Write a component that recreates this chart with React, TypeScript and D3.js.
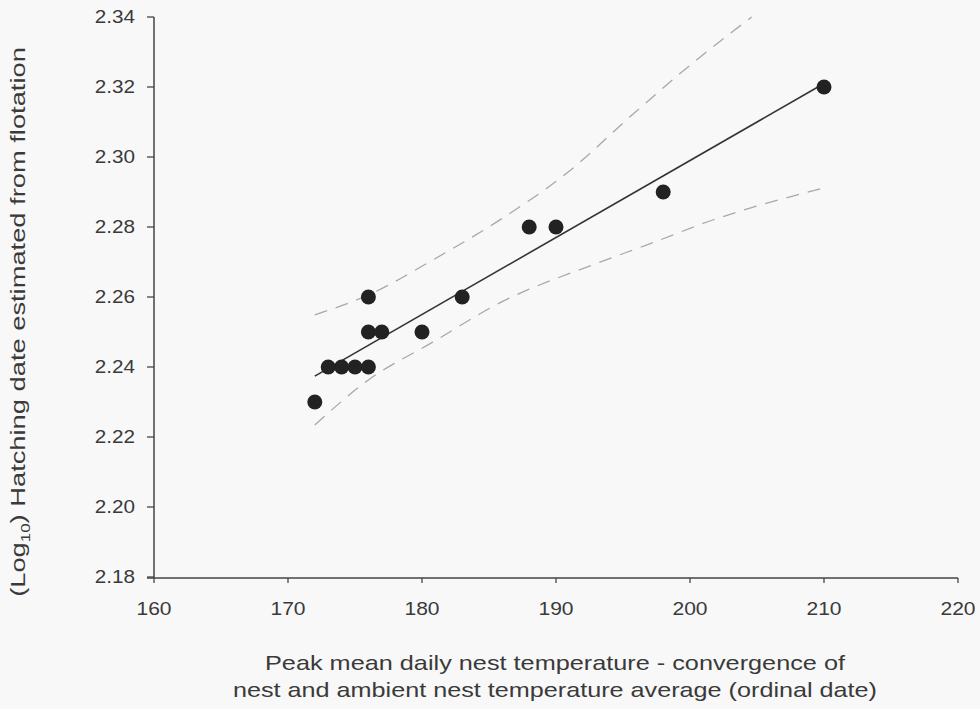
import React from "react";
import * as d3 from "d3";

const xTicks = [160, 170, 180, 190, 200, 210, 220];
const yTicks = [2.18, 2.2, 2.22, 2.24, 2.26, 2.28, 2.3, 2.32, 2.34];

const pointX = [172, 173, 174, 175, 176, 176, 176, 177, 180, 183, 188, 190, 198, 210];
const pointY = [2.23, 2.24, 2.24, 2.24, 2.24, 2.25, 2.26, 2.25, 2.25, 2.26, 2.28, 2.28, 2.29, 2.32];

const fitX = [172, 210];
const fitY = [2.2374, 2.321];

const upperX = [172, 176, 181, 186, 191, 195.5, 199.3, 204.6];
const upperY = [2.2549, 2.2606, 2.271, 2.2825, 2.296, 2.3114, 2.324, 2.34];

const lowerX = [172, 176, 180.8, 185.8, 193.1, 196.8, 201.7, 210];
const lowerY = [2.2234, 2.2363, 2.2471, 2.2583, 2.2697, 2.2749, 2.282, 2.2912];

const xTitle1 = "Peak mean daily nest temperature - convergence of";
const xTitle2 = "nest and ambient nest temperature average (ordinal date)";

export default function App() {
  const W = 980, H = 709;
  const left = 154, right = 958, top = 17, bottom = 577;
  const x = d3.scaleLinear().domain([160, 220]).range([left, right]);
  const y = d3.scaleLinear().domain([2.18, 2.34]).range([bottom, top]);
  const line = d3.line<[number, number]>().x(d => x(d[0])).y(d => y(d[1]));
  const curve = d3.line<[number, number]>().x(d => x(d[0])).y(d => y(d[1])).curve(d3.curveMonotoneX);
  const up = upperX.map((v, i) => [v, upperY[i]] as [number, number]);
  const lo = lowerX.map((v, i) => [v, lowerY[i]] as [number, number]);
  const fit = fitX.map((v, i) => [v, fitY[i]] as [number, number]);
  const textColor = "#3a3a3a";
  const font = "Arial, 'Liberation Sans', sans-serif";
  return (
    <svg width={W} height={H} style={{ position: "absolute", left: 0, top: 0 }} fontFamily={font}>
      <rect x={0} y={0} width={W} height={H} fill="#f8f8f8" />
      <path d={curve(up) || ""} fill="none" stroke="#a8a8a8" strokeWidth={1.3} strokeDasharray="13,9" />
      <path d={curve(lo) || ""} fill="none" stroke="#a8a8a8" strokeWidth={1.3} strokeDasharray="13,9" />
      <path d={line(fit) || ""} fill="none" stroke="#333" strokeWidth={1.6} />
      {pointX.map((v, i) => (
        <circle key={i} cx={x(v)} cy={y(pointY[i])} r={7.5} fill="#222" />
      ))}
      <line x1={left} x2={left} y1={top} y2={bottom + 1} stroke="#444" strokeWidth={1.5} />
      <line x1={left - 7} x2={right} y1={bottom + 1} y2={bottom + 1} stroke="#444" strokeWidth={1.5} />
      {yTicks.map(t => (
        <g key={t}>
          <line x1={left - 7} x2={left} y1={y(t)} y2={y(t)} stroke="#444" strokeWidth={1.3} />
          <text transform={`translate(${left - 19},${y(t)}) scale(1.15,1)`} dy="0.35em" textAnchor="end" fontSize={18} fill={textColor}>
            {t.toFixed(2)}
          </text>
        </g>
      ))}
      {xTicks.map(t => (
        <g key={t}>
          <line x1={x(t)} x2={x(t)} y1={bottom + 1} y2={bottom + 6} stroke="#444" strokeWidth={1.3} />
          <text transform={`translate(${x(t)},609) scale(1.17,1)`} dy="0.35em" textAnchor="middle" fontSize={18} fill={textColor}>
            {t}
          </text>
        </g>
      ))}
      <text x={555} y={663} dy="0.35em" textAnchor="middle" fontSize={21} fill={textColor} textLength={580} lengthAdjust="spacingAndGlyphs">{xTitle1}</text>
      <text x={555} y={690} dy="0.35em" textAnchor="middle" fontSize={21} fill={textColor} textLength={644} lengthAdjust="spacingAndGlyphs">{xTitle2}</text>
      <text transform={`translate(18, 322) rotate(-90) scale(1.3,1)`} dy="0.35em" textAnchor="middle" fontSize={21} fill={textColor}>
        (Log<tspan fontSize={13} dy="5">10</tspan><tspan dy="-5">) Hatching date estimated from flotation</tspan>
      </text>
    </svg>
  );
}
